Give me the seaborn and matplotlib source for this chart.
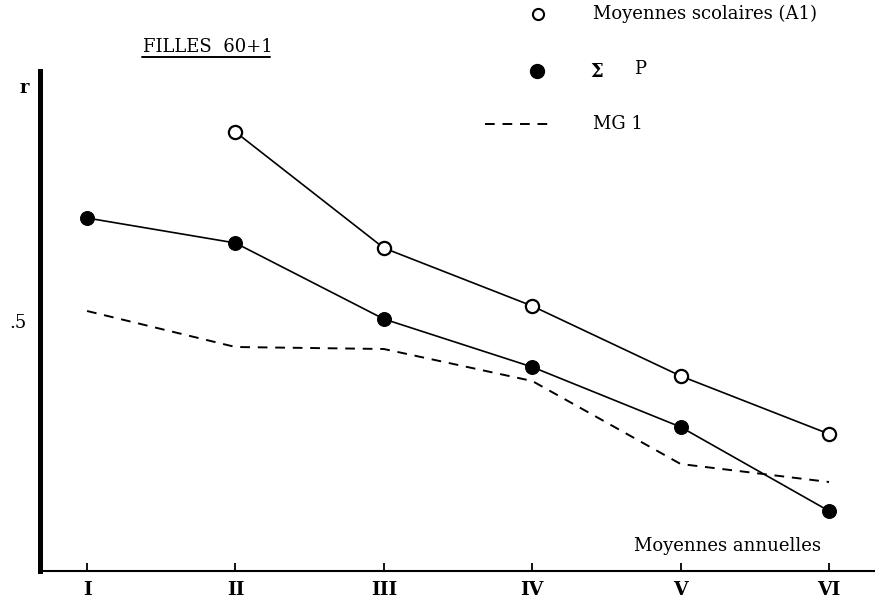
import matplotlib
matplotlib.use("Agg")
import matplotlib.pyplot as plt
import seaborn as sns
import pandas as pd
import numpy as np
from matplotlib.lines import Line2D

# ---- data ----
categories = ["I", "II", "III", "IV", "V", "VI"]
moy_scolaires = [np.nan, 0.689, 0.573, 0.515, 0.445, 0.387]
sigma_p = [0.603, 0.578, 0.502, 0.454, 0.394, 0.310]
mg1 = [0.510, 0.474, 0.472, 0.440, 0.357, 0.339]
ytick_values = [0.5]
ytick_labels = [".5"]

sns.set_theme(style="white")
plt.rcParams["font.family"] = ["DejaVu Serif", "Liberation Serif"]
plt.rcParams["text.color"] = "black"

W, H = 875, 598
fig = plt.figure(figsize=(W / 100, H / 100), dpi=100)
ax = fig.add_axes([40 / W, 27 / H, 835 / W, 500 / H])

xpos = np.arange(len(categories))
df_ms = pd.DataFrame({"x": xpos, "r": moy_scolaires}).dropna()
df_sp = pd.DataFrame({"x": xpos, "r": sigma_p})
df_mg = pd.DataFrame({"x": xpos, "r": mg1})

sns.lineplot(data=df_mg, x="x", y="r", ax=ax, color="black", lw=1.4,
             linestyle=(0, (5, 4)), zorder=2)
sns.lineplot(data=df_sp, x="x", y="r", ax=ax, color="black", lw=1.2,
             marker="o", markersize=10, markerfacecolor="black",
             markeredgecolor="black", zorder=3)
sns.lineplot(data=df_ms, x="x", y="r", ax=ax, color="black", lw=1.2,
             marker="o", markersize=9.5, markerfacecolor="white",
             markeredgecolor="black", markeredgewidth=1.6, zorder=4)

ax.set_xlim(-0.317, -0.317 + 835 / 148.4)
ax.set_ylim(0.25, 0.75)
ax.set_xticks(xpos)
ax.set_xticklabels(categories, fontsize=13.5, fontweight="bold")
ax.set_yticks(ytick_values)
ax.set_yticklabels(ytick_labels, fontsize=13)
ax.tick_params(axis="x", bottom=True, direction="in", length=6, width=1.3, pad=7,
               colors="black")
ax.tick_params(axis="y", left=True, length=0, pad=10, colors="black")
ax.set_xlabel("")
ax.set_ylabel("")

for s in ["top", "right"]:
    ax.spines[s].set_visible(False)
ax.spines["left"].set_linewidth(3.6)
ax.spines["left"].set_color("black")
ax.spines["bottom"].set_linewidth(1.5)
ax.spines["bottom"].set_color("black")
ax.set_facecolor("white")

def fx(px):
    return px / W

def fy(py):
    return 1 - py / H

# axis letter and title
fig.text(fx(24), fy(88), "r", fontsize=13, fontweight="bold", ha="center", va="center")
fig.text(fx(143), fy(47), "FILLES  60+1", fontsize=13, fontweight="medium",
         ha="left", va="center")
fig.add_artist(Line2D([fx(142), fx(270)], [fy(57), fy(57)], color="black", lw=1.4))
fig.text(fx(728), fy(546), "Moyennes annuelles", fontsize=13, ha="center", va="center")

# legend
fig.add_artist(Line2D([fx(538)], [fy(14)], marker="o", markersize=8,
                      markerfacecolor="white", markeredgecolor="black",
                      markeredgewidth=1.5, linestyle="none"))
fig.text(fx(593), fy(14), "Moyennes scolaires (A1)", fontsize=13, ha="left", va="center")
fig.add_artist(Line2D([fx(537)], [fy(71)], marker="o", markersize=10,
                      markerfacecolor="black", markeredgecolor="black", linestyle="none"))
fig.text(fx(590), fy(72), "Σ", fontsize=13, fontweight="bold", ha="left", va="center")
fig.text(fx(634), fy(69), "P", fontsize=13, ha="left", va="center")
fig.add_artist(Line2D([fx(485), fx(552)], [fy(124), fy(124)], color="black",
                      lw=1.4, linestyle=(0, (5, 4))))
fig.text(fx(593), fy(124), "MG 1", fontsize=13, ha="left", va="center")

fig.savefig("out.png", dpi=100, facecolor="white")
